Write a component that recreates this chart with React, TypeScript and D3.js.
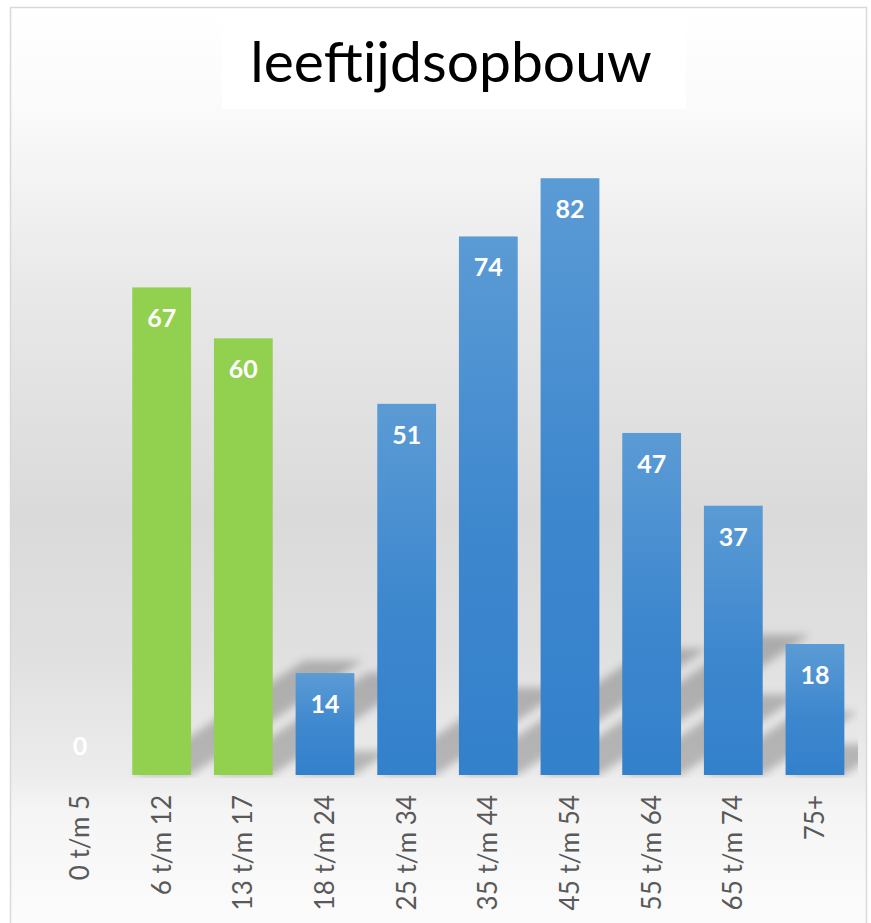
// leeftijdsopbouw bar chart drawn with d3
import * as d3 from "d3";
import { useEffect, useRef } from "react";

const categories = [
  "0 t/m 5",
  "6 t/m 12",
  "13 t/m 17",
  "18 t/m 24",
  "25 t/m 34",
  "35 t/m 44",
  "45 t/m 54",
  "55 t/m 64",
  "65 t/m 74",
  "75+",
];
const values = [0, 67, 60, 14, 51, 74, 82, 47, 37, 18];
const groups = ["green", "green", "green", "blue", "blue", "blue", "blue", "blue", "blue", "blue"];
const title = "leeftijdsopbouw";

export default function App() {
  const svgRef = useRef<SVGSVGElement>(null);

  useEffect(() => {
    const H = 923;
    const base = 775;
    const svg = d3.select(svgRef.current);
    svg.selectAll("*").remove();

    const defs = svg.append("defs");
    // chart background gradient
    const bg = defs
      .append("linearGradient")
      .attr("id", "bg")
      .attr("x1", 0)
      .attr("y1", 0)
      .attr("x2", 0)
      .attr("y2", 1);
    [
      [0, "#ffffff"],
      [0.1, "#fbfbfb"],
      [0.3, "#e9e9e9"],
      [0.55, "#dadada"],
      [0.7, "#e0e0e0"],
      [0.83, "#ececec"],
      [0.87, "#f5f5f5"],
      [1, "#fcfcfc"],
    ].forEach(([o, c]) => bg.append("stop").attr("offset", o as number).attr("stop-color", c as string));

    const blue = defs
      .append("linearGradient")
      .attr("id", "blue")
      .attr("x1", 0)
      .attr("y1", 0)
      .attr("x2", 0)
      .attr("y2", 1);
    blue.append("stop").attr("offset", 0).attr("stop-color", "#5b9bd5");
    blue.append("stop").attr("offset", 0.55).attr("stop-color", "#3d87ce");
    blue.append("stop").attr("offset", 1).attr("stop-color", "#3380cb");

    const blur = defs.append("filter").attr("id", "blur").attr("x", "-20%").attr("y", "-20%").attr("width", "140%").attr("height", "140%");
    blur.append("feGaussianBlur").attr("stdDeviation", 4);

    defs
      .append("clipPath")
      .attr("id", "plotclip")
      .append("rect")
      .attr("x", 20)
      .attr("y", 100)
      .attr("width", 838)
      .attr("height", base - 100 + 3);

    // frame
    svg
      .append("rect")
      .attr("x", 10.5)
      .attr("y", 7.5)
      .attr("width", 856)
      .attr("height", H)
      .attr("fill", "url(#bg)")
      .attr("stroke", "#d9d9d9")
      .attr("stroke-width", 1.5);

    const x = d3
      .scaleBand<string>()
      .domain(categories)
      .range([39.2, 855.8])
      .paddingInner(0.28)
      .paddingOuter(0.14);
    const y = d3.scaleLinear().domain([0, 90]).range([base, 120]);

    // perspective shadows
    const kH = 0.235;
    const kX = 1.5;
    svg
      .append("g")
      .attr("clip-path", "url(#plotclip)")
      .append("g")
      .attr("filter", "url(#blur)")
      .selectAll("path")
      .data(values)
      .join("path")
      .attr("d", (d, i) => {
        const x0 = x(categories[i])!;
        const x1 = x0 + x.bandwidth();
        const sh = (base - y(d)) * kH;
        const dx = sh * kX;
        return `M${x0},${base}L${x1},${base}L${x1 + dx},${base - sh}L${x0 + dx},${base - sh}Z`;
      })
      .attr("fill", "#000")
      .attr("fill-opacity", 0.23);

    // bars
    svg
      .append("g")
      .selectAll("rect")
      .data(values)
      .join("rect")
      .attr("x", (d, i) => x(categories[i])!)
      .attr("y", (d) => y(d))
      .attr("width", x.bandwidth())
      .attr("height", (d) => base - y(d))
      .attr("fill", (d, i) => (groups[i] === "green" ? "#92d050" : "url(#blue)"));

    // value labels
    svg
      .append("g")
      .selectAll("text")
      .data(values)
      .join("text")
      .attr("x", (d, i) => x(categories[i])! + x.bandwidth() / 2)
      .attr("y", (d) => Math.min(y(d) + 40, base - 20))
      .attr("text-anchor", "middle")
      .attr("fill", "#ffffff")
      .style("font-family", "Lato, 'Open Sans', sans-serif")
      .style("font-weight", 700)
      .style("font-size", "25px")
      .text((d) => d);

    // category labels
    svg
      .append("g")
      .selectAll("text")
      .data(categories)
      .join("text")
      .attr("transform", (d) => `translate(${x(d)! + x.bandwidth() / 2 + 9},795) rotate(-90)`)
      .attr("text-anchor", "end")
      .attr("fill", "#595959")
      .style("font-family", "Lato, 'Open Sans', sans-serif")
      .style("font-size", "26px")
      .text((d) => d);

    // title
    svg
      .append("rect")
      .attr("x", 222)
      .attr("y", 22)
      .attr("width", 464)
      .attr("height", 87)
      .attr("fill", "#ffffff");
    svg
      .append("text")
      .attr("x", 451)
      .attr("y", 82)
      .attr("text-anchor", "middle")
      .attr("fill", "#000000")
      .style("font-family", "Lato, 'Open Sans', sans-serif")
      .style("font-size", "57px")
      .text(title);
  }, []);

  return (
    <svg
      ref={svgRef}
      width={871}
      height={923}
      style={{ position: "absolute", left: 0, top: 0, display: "block", background: "#ffffff" }}
    />
  );
}
